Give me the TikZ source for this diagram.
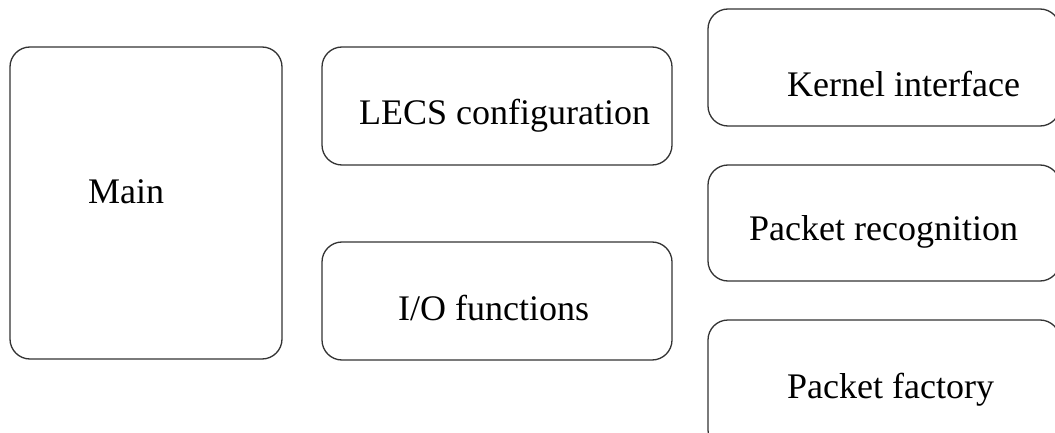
\documentclass[tikz,border=0pt]{standalone}
\usepackage{fontspec}
\setmainfont{Liberation Serif}
\begin{document}
\begin{tikzpicture}[x=1pt,y=-1pt,
  box/.style={draw=black!80, line width=1.3pt, rounded corners=20pt, anchor=north west, inner sep=0pt, outer sep=0pt},
  lbl/.style={anchor=base west, inner sep=0pt, font=\fontsize{36}{40}\selectfont}]
\useasboundingbox (0,0) rectangle (1055,433);
\clip (0,0) rectangle (1055,433);
\node[box, minimum width=272pt, minimum height=312pt] (main) at (10,47) {};
\node[box, minimum width=350pt, minimum height=118pt] (lecs) at (322,47) {};
\node[box, minimum width=350pt, minimum height=118pt] (io) at (322,242) {};
\node[box, minimum width=352pt, minimum height=117pt] (kern) at (708,9) {};
\node[box, minimum width=352pt, minimum height=116pt] (prec) at (708,165) {};
\node[box, minimum width=352pt, minimum height=130pt] (pfac) at (708,320) {};
\node[lbl] (mainT) at (88,203) {Main};
\node[lbl] (lecsT) at (359,125) {LECS configuration};
\node[lbl] (ioT) at (398,320) {I/O functions};
\node[lbl] (kernT) at (787,97) {Kernel interface};
\node[lbl] (precT) at (749,240) {Packet recognition};
\node[lbl] (pfacT) at (787,398) {Packet factory};
\end{tikzpicture}
\end{document}
